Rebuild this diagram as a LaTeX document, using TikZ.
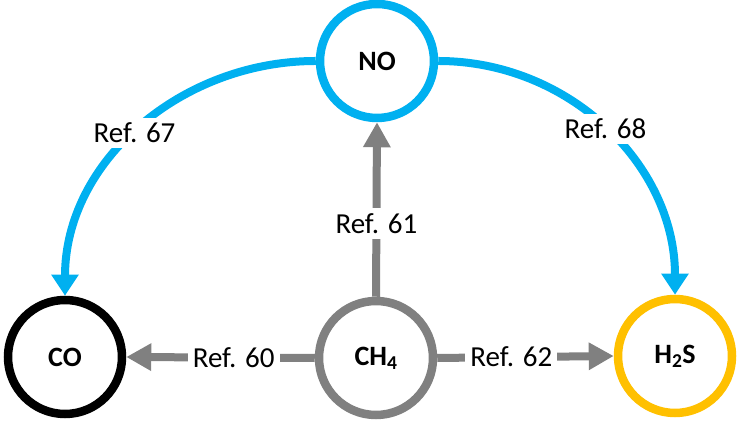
\documentclass[tikz,border=0pt]{standalone}
\usepackage{fontspec}
\setmainfont{Carlito}
\usetikzlibrary{arrows.meta}
\definecolor{nblue}{HTML}{00B0F0}
\definecolor{ngray}{HTML}{808080}
\definecolor{ngold}{HTML}{FFC000}
\begin{document}
\begin{tikzpicture}[x=1pt,y=1pt,
  gas/.style={circle,line width=8.5pt,minimum size=114pt,inner sep=0pt,fill=white,
    font=\fontsize{28}{30}\selectfont\bfseries},
  ref/.style={fill=white,inner sep=5pt,font=\fontsize{29}{32}\selectfont,text=black},
  barrow/.style={draw=nblue,line width=8pt,-{Triangle[width=26pt,length=21pt]}},
  garrow/.style={draw=ngray,line width=8pt,-{Triangle[width=26pt,length=25pt]}}]
\useasboundingbox (0,0) rectangle (739,422);
\node[gas,draw=nblue] (NO) at (377,361) {NO};
\node[gas,draw=black] (CO) at (65,65) {CO};
\node[gas,draw=ngray] (CH4) at (376,64) {CH\textsubscript{4}};
\node[gas,draw=ngold] (H2S) at (675,66) {H\textsubscript{2}S};
\draw[barrow] (NO.west) to[out=180,in=90] node[ref,pos=0.52] {Ref. 67} (CO.north);
\draw[barrow] (NO.east) to[out=0,in=90] node[ref,pos=0.5] {Ref. 68} (H2S.north);
\draw[garrow] (CH4.north) -- node[ref,pos=0.42] {Ref. 61} (NO.south);
\draw[garrow] (CH4.west) -- node[ref,pos=0.43] {Ref. 60} (CO.east);
\draw[garrow] (CH4.east) -- node[ref,pos=0.42] {Ref. 62} (H2S.west);
\end{tikzpicture}
\end{document}
